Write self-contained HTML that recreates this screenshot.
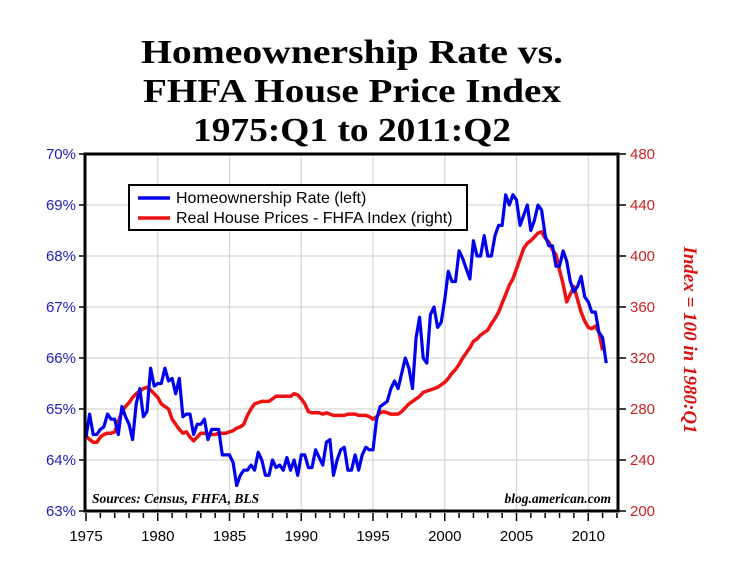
<!DOCTYPE html>
<html><head><meta charset="utf-8"><style>
body{margin:0;background:#fff;}
svg{display:block;}
</style></head><body>
<svg id="chart" width="740" height="577" xmlns="http://www.w3.org/2000/svg">
<g font-family="Liberation Serif, serif" font-weight="bold" font-size="34" text-anchor="middle" fill="#000">
<text x="352" y="63" textLength="422" lengthAdjust="spacingAndGlyphs">Homeownership Rate vs.</text>
<text x="352" y="102" textLength="418" lengthAdjust="spacingAndGlyphs">FHFA House Price Index</text>
<text x="352" y="141" textLength="318" lengthAdjust="spacingAndGlyphs">1975:Q1 to 2011:Q2</text>
</g>
<g id="grid"></g>
<g id="axes"></g>
<g id="series"></g>
<rect x="85" y="154" width="533" height="357" fill="none" stroke="#000" stroke-width="3"/>
<g>
<rect x="129" y="185" width="338" height="45" fill="#fff" stroke="#000" stroke-width="2"/>
<line x1="138" y1="198" x2="170" y2="198" stroke="#0000ee" stroke-width="3.5"/>
<text x="176" y="203" font-family="Liberation Sans, sans-serif" font-size="16">Homeownership Rate (left)</text>
<line x1="138" y1="218" x2="170" y2="218" stroke="#ee1111" stroke-width="3.5"/>
<text x="176" y="223" font-family="Liberation Sans, sans-serif" font-size="16">Real House Prices - FHFA Index (right)</text>
</g>
<text x="92" y="503" font-family="Liberation Serif, serif" font-weight="bold" font-style="italic" font-size="13.5">Sources: Census, FHFA, BLS</text>
<text x="611" y="503" text-anchor="end" font-family="Liberation Serif, serif" font-weight="bold" font-style="italic" font-size="13.5">blog.american.com</text>
<text transform="translate(684,340) rotate(90)" text-anchor="middle" font-family="Liberation Serif, serif" font-weight="bold" font-style="italic" font-size="19" fill="#dd1111">Index = 100 in 1980:Q1</text>
</svg>
<script>
const years = [1975,1980,1985,1990,1995,2000,2005,2010];
const leftTicks = [63,64,65,66,67,68,69,70];
const rightTicks = [200,240,280,320,360,400,440,480];
const homeownership = [
64.45,64.9,64.5,64.5, 64.6,64.65,64.9,64.8, 64.8,64.5,65.05,64.85, 64.7,64.4,65.1,65.4,
64.85,64.95,65.8,65.45, 65.5,65.5,65.8,65.55, 65.6,65.3,65.6,64.85, 64.9,64.9,64.5,64.7,
64.7,64.8,64.4,64.6, 64.6,64.6,64.1,64.1, 64.1,63.95,63.5,63.7, 63.8,63.8,63.9,63.8,
64.15,64.0,63.7,63.7, 64.0,63.85,63.9,63.8, 64.05,63.8,64.0,63.7, 64.1,64.1,63.85,63.85,
64.2,64.05,63.9,64.35, 64.4,63.7,64.0,64.2, 64.25,63.8,63.8,64.1, 63.8,64.1,64.25,64.2,
64.2,64.8,65.05,65.1, 65.15,65.4,65.55,65.4, 65.7,66.0,65.8,65.4, 66.4,66.8,66.0,65.9,
66.85,67.0,66.6,66.7, 67.15,67.7,67.5,67.5, 68.1,67.95,67.75,67.55, 68.3,68.0,68.0,68.4,
68.0,68.0,68.4,68.6, 68.6,69.2,69.0,69.2, 69.1,68.6,68.8,69.0, 68.5,68.7,69.0,68.9,
68.4,68.2,68.2,67.8, 67.8,68.1,67.9,67.5, 67.3,67.4,67.6,67.2, 67.1,66.9,66.9,66.5,
66.4,65.9];
const housePrices = [
259,256,254,254, 258,260,261,261, 262,270,278,282, 285,289,292,294, 296,297,295,292,
289,284,282,280, 272,268,264,261, 262,258,255,258, 261,261,260,260, 260,261,261,261,
262,263,265,266, 268,275,280,284, 285,286,286,286, 288,290,290,290, 290,290,292,291,
288,284,278,277, 277,277,276,277, 276,275,275,275, 275,276,276,276, 275,275,275,274,
272,274,277,278, 277,276,276,276, 278,281,284,286, 288,290,293,294, 295,296,297,299,
301,304,308,311, 315,320,324,328, 333,335,338,340, 342,347,351,356, 363,370,377,382,
390,398,406,410, 412,415,418,419, 414,411,405,401, 389,378,364,370, 376,366,356,349,
344,343,345,340, 326];
const startYear = 1975;

const X0=86, PXY=14.35;
const xScale = y => X0 + (y-1975)*PXY;
const yLeft = v => 154 + (70-v)*51;
const yRight = v => 154 + (480-v)/40*51;
const NS='http://www.w3.org/2000/svg';
const mk = (tag, attrs, parent) => { const e=document.createElementNS(NS,tag); for(const k in attrs) e.setAttribute(k,attrs[k]); parent.appendChild(e); return e; };
const grid=document.getElementById('grid'), axes=document.getElementById('axes'), series=document.getElementById('series');

years.forEach(y=>{
  const x=xScale(y);
  if(y>1975){ const l=mk('line',{x1:x,y1:154,x2:x,y2:511,stroke:'#d6d6d6','stroke-width':1.2},grid);
  
   }
  const t=mk('text',{x:x,y:541,'text-anchor':'middle','font-family':'Liberation Sans, sans-serif','font-size':15},axes);
  t.textContent=y;
  
  
});
for(let y=1975;y<=2012;y++){
  const x=xScale(y), major=(y%5===0);
  const l=mk('line',{x1:x,y1:513,x2:x,y2:major?521:518,stroke:'#000','stroke-width':1.5},axes);
  
  
}
leftTicks.forEach(v=>{
  const y=yLeft(v);
  if(v>63&&v<70){ const l=mk('line',{x1:85,y1:y,x2:618,y2:y,stroke:'#d6d6d6','stroke-width':1.2},grid);
  
   }
  const tk=mk('line',{x1:79,y1:y,x2:85,y2:y,stroke:'#000','stroke-width':1.5},axes);
  
  
  const t=mk('text',{x:76,y:y+5,'text-anchor':'end','font-family':'Liberation Sans, sans-serif','font-size':15,fill:'#2020bb'},axes);
  t.textContent=v+'%';
  
  
});
rightTicks.forEach(v=>{
  const y=yRight(v);
  const tk=mk('line',{x1:618,y1:y,x2:626,y2:y,stroke:'#000','stroke-width':1.5},axes);
  
  
  const t=mk('text',{x:630,y:y+5,'font-family':'Liberation Sans, sans-serif','font-size':15,fill:'#cc2222'},axes);
  t.textContent=v;
  
  
});
const pts = (arr, ys) => arr.map((v,i)=>xScale(startYear+i*0.25).toFixed(1)+','+ys(v).toFixed(1)).join(' ');
const red=mk('polyline',{points:pts(housePrices,yRight),fill:'none',stroke:'#ee1111','stroke-width':3.5,'stroke-linejoin':'round'},series);


const blue=mk('polyline',{points:pts(homeownership,yLeft),fill:'none',stroke:'#0000ee','stroke-width':3.2,'stroke-linejoin':'round'},series);


</script>
</body></html>
